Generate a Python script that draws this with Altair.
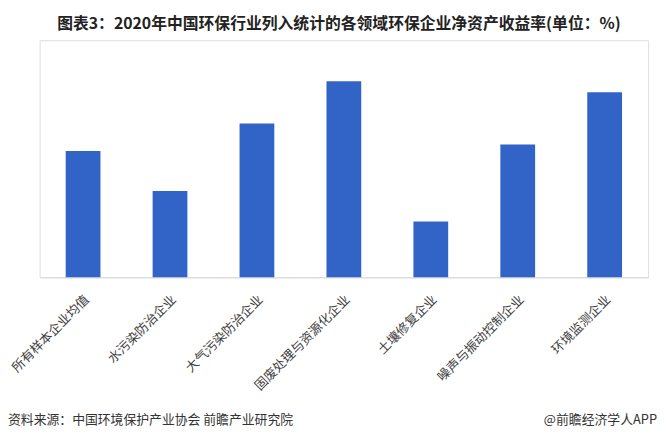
import altair as alt
import pandas as pd

categories = ["所有样本企业均值", "水污染防治企业", "大气污染防治企业", "固废处理与资源化企业",
              "土壤修复企业", "噪声与振动控制企业", "环境监测企业"]
values = [6.39, 4.37, 7.79, 9.92, 2.82, 6.72, 9.37]

title_text = "图表3：2020年中国环保行业列入统计的各领域环保企业净资产收益率(单位：%)"
source_text = "资料来源：中国环境保护产业协会 前瞻产业研究院"
brand_text = "@前瞻经济学人APP"

df = pd.DataFrame({"cat": categories, "val": values})
FONT = "Noto Sans CJK SC"

bars = alt.Chart(df).mark_bar(color="#3264C8").encode(
    x=alt.X("cat:N", sort=categories, title=None,
            scale=alt.Scale(paddingInner=0.6, paddingOuter=0.3),
            axis=alt.Axis(labelAngle=-45, labelAlign="right", labelBaseline="middle",
                          labelPadding=20, labelFontSize=13, labelFont=FONT,
                          labelColor="#404040", ticks=False, domainColor="#d9d9d9",
                          labelLimit=300, labelOffset=4)),
    y=alt.Y("val:Q", scale=alt.Scale(domain=[0, 12], nice=False), axis=None),
)

title = alt.Chart(pd.DataFrame({"t": [title_text]})).mark_text(
    font=FONT, fontSize=16, fontWeight="bold", color="#222222", align="center", baseline="middle"
).encode(text="t:N", x=alt.value(303), y=alt.value(-16))

src = alt.Chart(pd.DataFrame({"t": [source_text]})).mark_text(
    font=FONT, fontSize=13, color="#333333", align="left", baseline="middle"
).encode(text="t:N", x=alt.value(-32), y=alt.value(384))

brand = alt.Chart(pd.DataFrame({"t": [brand_text]})).mark_text(
    font=FONT, fontSize=13, color="#333333", align="right", baseline="middle"
).encode(text="t:N", x=alt.value(625), y=alt.value(384))

chart = alt.layer(bars, title, src, brand).properties(
    width=616, height=240,
    autosize=alt.AutoSizeParams(type="none"),
    padding={"left": 32, "top": 30, "right": 10, "bottom": 157},
).configure_view(stroke=None).configure(background="white")

chart.save("out.html", embed_options={"renderer": "svg", "actions": False})
